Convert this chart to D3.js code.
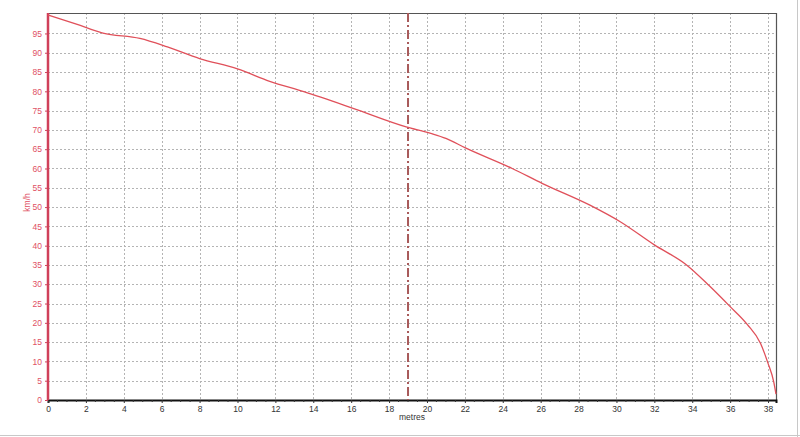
<!DOCTYPE html>
<html><head><meta charset="utf-8">
<script src="https://cdn.jsdelivr.net/npm/d3@7"></script>
<style>html,body{margin:0;padding:0;background:#fff;}svg{display:block;}</style>
</head><body>
<svg id="c" width="800" height="437"></svg>
<script>
const distance = [0, 1.5, 2.9, 4.85, 6.3, 8.0, 10.0, 11.7, 13.5, 16.1, 18.9, 20.2, 21.0, 22.0, 24.5, 26.1, 28.6, 30.2, 32.0, 33.7, 34.9, 36.0, 36.9, 37.6, 38.0, 38.3, 38.42];
const speed    = [99.8, 97.4, 95.1, 93.7, 91.5, 88.5, 85.8, 82.6, 79.9, 75.6, 70.8, 69.1, 67.8, 65.4, 60.0, 56.1, 50.5, 46.2, 40.2, 35.0, 29.6, 24.2, 19.6, 14.7, 9.5, 4.7, 1.5];
const markerDistance = [19.0];
const xTicks = [0,2,4,6,8,10,12,14,16,18,20,22,24,26,28,30,32,34,36,38];
const yTicks = [0,5,10,15,20,25,30,35,40,45,50,55,60,65,70,75,80,85,90,95];
const xLabel = "metres", yLabel = "km/h";

const svg = d3.select("#c");
const L = 48, R = 776, T = 13, B = 400;
const x = d3.scaleLinear().domain([0, 38.42]).range([L, R]);
const y = d3.scaleLinear().domain([0, 100.3]).range([B, T]);
const FONT = "Liberation Sans, Arial, sans-serif";

// outer frame
svg.append("line").attr("x1",797.5).attr("x2",797.5).attr("y1",0).attr("y2",437).attr("stroke","#c8c8c8");
svg.append("line").attr("x1",0).attr("x2",800).attr("y1",435.5).attr("y2",435.5).attr("stroke","#c8c8c8");

// grid
const grid = svg.append("g").attr("stroke","#b4b4b4").attr("stroke-dasharray","2,2").attr("stroke-width",1);
grid.selectAll("line.v").data(xTicks.filter(d=>d>0)).join("line")
  .attr("x1",d=>Math.round(x(d))+0.5).attr("x2",d=>Math.round(x(d))+0.5).attr("y1",T).attr("y2",B);
grid.selectAll("line.h").data(yTicks.filter(d=>d>0)).join("line")
  .attr("y1",d=>Math.round(y(d))+0.5).attr("y2",d=>Math.round(y(d))+0.5).attr("x1",L).attr("x2",R);

// top & right border
svg.append("path").attr("d",`M${L},${T+0.5}H${R+0.5}V${B}`).attr("fill","none").attr("stroke","#555").attr("stroke-width",1.2);

// x axis
const xAxis = d3.axisBottom(x).tickValues(xTicks).tickSize(3).tickFormat(d3.format("d"));
const gx = svg.append("g").attr("transform",`translate(0,${B})`).call(xAxis);
gx.select(".domain").attr("stroke","#111").attr("stroke-width",2);
gx.selectAll(".tick line").attr("stroke","#333");
gx.selectAll(".tick text").attr("fill","#333").attr("font-family",FONT).attr("font-size",8.5).attr("dy","0.7em");
const minor = d3.range(0.5, 38.42, 0.5).filter(d => d % 2 !== 0);
svg.append("g").selectAll("line").data(minor).join("line")
  .attr("x1",d=>x(d)).attr("x2",d=>x(d)).attr("y1",B).attr("y2",B+2).attr("stroke","#333");

// y axis
const yAxis = d3.axisLeft(y).tickValues(yTicks).tickSize(3).tickFormat(d3.format("d"));
const gy = svg.append("g").attr("transform",`translate(${L},0)`).call(yAxis);
gy.select(".domain").attr("stroke","#d0405a").attr("stroke-width",2.5).attr("d",`M0,${T}V${B}`);
gy.selectAll(".tick line").attr("stroke","#d0405a");
gy.selectAll(".tick text").attr("fill","#e05064").attr("font-family",FONT).attr("font-size",8.5);

// labels
svg.append("text").attr("x",(L+R)/2).attr("y",420).attr("text-anchor","middle")
  .attr("font-family",FONT).attr("font-size",8.5).attr("fill","#333").text(xLabel);
svg.append("text").attr("transform",`translate(30,${(T+B)/2 - 4}) rotate(-90)`).attr("text-anchor","middle")
  .attr("font-family",FONT).attr("font-size",8.5).attr("fill","#e05064").text(yLabel);

// marker line
svg.append("g").selectAll("line").data(markerDistance).join("line")
  .attr("x1",d=>x(d)).attr("x2",d=>x(d)).attr("y1",T).attr("y2",B)
  .attr("stroke","#a85a5a").attr("stroke-width",2).attr("stroke-dasharray","9,3,2,3");

// curve
const pts = distance.map((d,i)=>[d, speed[i]]);
svg.append("path").datum(pts)
  .attr("d", d3.line().x(d=>x(d[0])).y(d=>y(d[1])).curve(d3.curveMonotoneX))
  .attr("fill","none").attr("stroke","#e0505a").attr("stroke-width",1.3);
</script>
</body></html>
